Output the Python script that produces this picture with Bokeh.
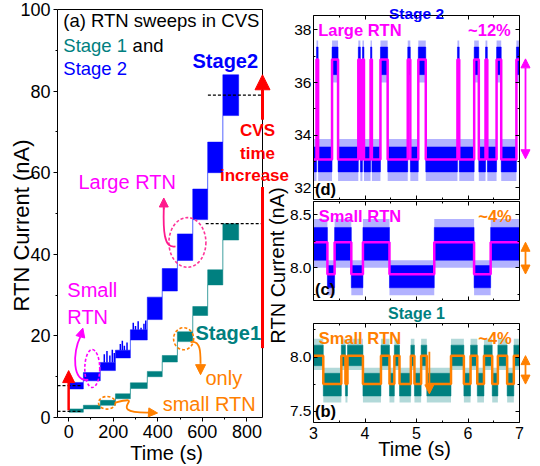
from bokeh.plotting import figure
from bokeh.layouts import row, column
from bokeh.models import (FixedTicker, LinearAxis, Label, Arrow, NormalHead,
                          Range1d, PrintfTickFormatter)
from bokeh.embed import file_html
from bokeh.resources import INLINE

FONT = "Liberation Sans"
BLUE = "#0000FF"
TEAL = "#008080"
MAGENTA = "#FF00FF"
ORANGE = "#FF8000"
RED = "#FF0000"
PINK = "#FF3399"

# ---------------- panel (a): step sweeps ----------------
step_start = [2, 66, 142, 210, 277, 353, 420, 488, 557, 624, 692]
step_end = [66, 142, 210, 277, 353, 420, 488, 557, 624, 692, 763]
stage2_low = [7.0, 9.0, 11.5, 14.6, 19.0, 24.0, 31.0, 38.5, 48.5, 60.0, 74.0]
stage2_high = [8.6, 11.0, 13.5, 16.5, 21.5, 29.5, 36.5, 45.0, 56.0, 67.5, 84.0]
stage1_low = [1.3, 2.1, 3.0, 4.6, 7.1, 10.0, 13.6, 18.6, 25.0, 32.5, 43.5]
stage1_high = [2.1, 3.0, 4.2, 5.8, 8.5, 11.3, 15.2, 21.0, 27.2, 36.2, 47.5]
spike_t = [160, 172, 185, 196, 205, 232, 241, 250, 262, 290, 300, 312, 325, 338, 346]
spike_top = [15.5, 16.3, 15.2, 16.6, 15.8, 18.0, 18.8, 17.6, 18.4, 23.2, 22.4, 23.6, 22.0, 23.0, 23.8]
x_ticks_a = [0, 200, 400, 600, 800]
y_ticks_a = [0, 20, 40, 60, 80, 100]

# ---------------- panel (d): Stage 2 large RTN ----------------
d_rise = [3.058, 3.36, 3.87, 3.95, 4.108, 4.30, 4.83, 5.035, 5.795, 6.12, 6.34, 6.555, 6.94]
d_fall = [3.09, 3.477, 3.91, 3.98, 4.134, 4.44, 4.88, 5.18, 5.83, 6.21, 6.375, 6.645, 7.0]
d_levels = [33.07, 36.88]
d_low_outer, d_low_inner = [32.25, 33.85], [32.6, 33.55]
d_high_outer, d_high_inner = [36.0, 37.6], [36.3, 37.35]

# ---------------- panel (c): Stage 2 small RTN ----------------
c_fall = [3.27, 3.734, 4.475, 6.118]
c_rise = [3.41, 3.96, 5.345, 6.44]
c_levels = [7.937, 8.24]
c_low_outer, c_low_inner = [7.74, 8.07], [7.81, 8.02]
c_high_outer, c_high_inner = [8.0, 8.46], [8.07, 8.38]

# ---------------- panel (b): Stage 1 small RTN ----------------
b_fall = [3.19, 3.62, 3.96, 4.475, 4.67, 4.96, 5.20, 5.92, 6.18, 6.47, 6.76]
b_rise = [3.54, 3.66, 4.31, 4.57, 4.89, 5.09, 5.67, 6.05, 6.31, 6.58, 6.89]
b_levels = [7.75, 8.013]
b_low_outer, b_low_inner = [7.58, 7.9], [7.64, 7.85]
b_high_outer, b_high_inner = [7.88, 8.17], [7.92, 8.11]


def style_axis(ax, labels=True, inside=False, size="18px", standoff=3, ticks=True):
    ax.axis_line_color = "black"
    ax.axis_line_width = 1
    ax.major_tick_line_color = "black" if ticks else None
    ax.minor_tick_line_color = "black" if ticks else None
    if inside:
        ax.major_tick_in, ax.major_tick_out = 4, 0
        ax.minor_tick_in, ax.minor_tick_out = 2, 0
    else:
        ax.major_tick_in, ax.major_tick_out = 0, 4
        ax.minor_tick_in, ax.minor_tick_out = 0, 2
    ax.major_label_text_font = FONT
    ax.major_label_text_color = "black"
    if labels:
        ax.major_label_text_font_size = size
        ax.major_label_standoff = standoff
    else:
        ax.major_label_text_color = None
        ax.major_label_standoff = 0


def lab(fig, text, x, y, color="black", size=18.5, bold=False, align="left",
        baseline="middle", angle=0.0):
    fig.add_layout(Label(x=x, y=y, text=text, text_color=color, text_font=FONT,
                         text_font_size=f"{size}px",
                         text_font_style="bold" if bold else "normal",
                         text_align=align, text_baseline=baseline, angle=angle))


def arrow(fig, x0, y0, x1, y1, color, width=2.0, head=10, both=False, nohead=False):
    end = None if nohead else NormalHead(size=head, fill_color=color, line_color=color)
    start = NormalHead(size=head, fill_color=color, line_color=color) if both else None
    fig.add_layout(Arrow(start=start, end=end, x_start=x0, y_start=y0, x_end=x1, y_end=y1,
                         line_color=color, line_width=width))


# ======================= left figure =======================
# page geometry (px): canvas x 0..289, y 0..464; x=-50 at 57, x=870 at 262; y=100 at 9, y=0 at 417
SXA = 205 / 920.0
SYA = (417 - 9) / 100.0
H = 464


def lx(px):
    return -50 + (px - 57) / SXA


def ly(py):
    return (417 - py) / SYA


p = figure(width=289, height=H, x_range=Range1d(lx(0), lx(289)),
           y_range=Range1d(ly(H), ly(0)),
           output_backend="svg", toolbar_location=None, min_border=0,
           min_border_left=0, min_border_right=0, min_border_top=0, min_border_bottom=0)
p.xgrid.visible = False
p.ygrid.visible = False
p.outline_line_color = None
p.background_fill_color = "white"
p.border_fill_color = "white"
p.xaxis.ticker = FixedTicker(ticks=x_ticks_a, minor_ticks=[100, 300, 500, 700])
p.yaxis.ticker = FixedTicker(ticks=y_ticks_a, minor_ticks=[10, 30, 50, 70, 90])
p.xaxis.fixed_location = 0
p.xaxis.bounds = (-50, 870)
p.yaxis.fixed_location = -50
p.yaxis.bounds = (0, 100)
style_axis(p.xaxis[0])
style_axis(p.yaxis[0])
top_a = LinearAxis(fixed_location=100, bounds=(-50, 870), ticker=FixedTicker(ticks=[]))
right_a = LinearAxis(fixed_location=870, bounds=(0, 100), ticker=FixedTicker(ticks=[]))
style_axis(top_a, labels=False, ticks=False)
style_axis(right_a, labels=False, ticks=False)
p.add_layout(top_a, "above")
p.add_layout(right_a, "right")

# connectors between steps
p.segment(x0=step_end[:-1], y0=stage2_high[:-1], x1=step_end[:-1], y1=stage2_low[1:],
          line_color="#5566ff", line_width=1)
p.segment(x0=step_end[:-1], y0=stage1_high[:-1], x1=step_end[:-1], y1=stage1_low[1:],
          line_color="#40a0a0", line_width=1)
# noisy step blocks
p.quad(left=step_start, right=step_end, bottom=stage2_low, top=stage2_high,
       fill_color=BLUE, line_color=BLUE, line_width=0.5)
p.quad(left=step_start, right=step_end, bottom=stage1_low, top=stage1_high,
       fill_color=TEAL, line_color=TEAL, line_width=0.5)
spike_base = []
for t in spike_t:
    for s0, s1, hi in zip(step_start, step_end, stage2_high):
        if s0 <= t < s1:
            spike_base.append(hi)
p.segment(x0=spike_t, y0=spike_base, x1=spike_t, y1=spike_top, line_color=BLUE, line_width=1.5)

# dashed guide lines
p.segment(x0=[625, 615, -50, -50], y0=[79, 47.5, 7.8, 1.5],
          x1=[870, 870, 62, 62], y1=[79, 47.5, 7.8, 1.5],
          line_color="black", line_dash="3 2", line_width=1.3)

# dashed ellipses
p.ellipse(x=[533], y=[42.9], width=[166], height=[12.2], fill_alpha=0,
          line_color=PINK, line_dash="3 2", line_width=1.6)
p.ellipse(x=[106], y=[12.0], width=[67], height=[9.3], fill_alpha=0,
          line_color=MAGENTA, line_dash="3 2", line_width=1.6)
p.ellipse(x=[172, 516], y=[3.6, 19.3], width=[76, 90], height=[3.1, 5.4], fill_alpha=0,
          line_color=ORANGE, line_dash="3 2", line_width=1.6)

# curved pointer arrows
p.bezier(x0=[479.6], y0=[41.95], x1=[427], y1=[51.5], cx0=[425.6], cy0=[41.3],
         cx1=[424.3], cy1=[46.2], line_color="#FF1A8C", line_width=1.8)
arrow(p, 427, 51.0, 427, 53.8, "#FF1A8C", width=1.8, head=9)
p.bezier(x0=[88.5], y0=[9.27], x1=[52.6], y1=[19.76], cx0=[16.6], cy0=[8.29],
         cx1=[16.6], cy1=[16.1], line_color=MAGENTA, line_width=1.8)
arrow(p, 52.6, 19.76, 63.8, 21.9, MAGENTA, width=1.8, head=9)
p.bezier(x0=[209.9], y0=[3.66], x1=[367], y1=[1.22], cx0=[367], cy0=[5.85],
         cx1=[142.5], cy1=[0.98], line_color=ORANGE, line_width=1.8)
arrow(p, 367, 1.22, 399, 1.1, ORANGE, width=1.8, head=9)
p.bezier(x0=[547], y0=[18.5], x1=[592], y1=[13.2], cx0=[592], cy0=[19.0],
         cx1=[592], cy1=[16.1], line_color=ORANGE, line_width=1.8)
arrow(p, 592, 13.2, 592, 10.5, ORANGE, width=1.8, head=10)

# red CVS arrows
arrow(p, 0, 1.8, 0, 11.5, RED, width=2.5, head=12)
arrow(p, 870, 17, 870, 56.5, RED, width=3, nohead=True)
arrow(p, 870, 73, 870, 84, RED, width=3, head=15)

# texts
lab(p, "(a) RTN sweeps in CVS", -24, ly(20))
lab(p, "Stage 1", -24, ly(45), color=TEAL)
lab(p, "and", 287, ly(45))
lab(p, "Stage 2", -24, ly(68), color=BLUE)
lab(p, "Stage2", 556, ly(60), color=BLUE, size=20, bold=True)
lab(p, "Large RTN", 44, 57.6, color=MAGENTA, size=20)
lab(p, "Small", -6, 31.2, color=MAGENTA, size=20)
lab(p, "RTN", -6, 24.6, color=MAGENTA, size=20)
lab(p, "Stage1", 569, 20.7, color=TEAL, size=20, bold=True)
lab(p, "only", 614, 9.8, color=ORANGE, size=20)
lab(p, "small RTN", 422, 3.2, color=ORANGE, size=20)
lab(p, "CVS", lx(257), ly(130), color=RED, size=17, bold=True, align="center")
lab(p, "time", lx(257), ly(153), color=RED, size=17, bold=True, align="center")
lab(p, "increase", lx(254), ly(175), color=RED, size=17, bold=True, align="center")
# axis titles (left panel and the shared one of the right column)
lab(p, "RTN Current (nA)", lx(21), ly(225), size=22, align="center", angle=1.5708)
lab(p, "Time (s)", lx(166), ly(452), size=20, align="center")
lab(p, "RTN Current (nA)", lx(277), ly(265), size=20, align="center", angle=1.5708)


# ======================= right column =======================
SXR = (519 - 313) / 4.0
RX0, RX1 = 289, 538


def rx(px):
    return 3 + (px - 313) / SXR


def segments(t0, t1, starts, ends, base_high):
    segs, t = [], t0
    for a, b in zip(starts, ends):
        if a > t:
            segs.append((t, a, base_high))
        segs.append((a, min(b, t1), not base_high))
        t = b
    if t < t1:
        segs.append((t, t1, base_high))
    return segs


def rpanel(ymin, ymax, top_px, bot_px, can_top, can_bot, yt, ym, xlabels, fmt=None):
    scale = (bot_px - top_px) / (ymax - ymin)

    def py(px):
        return ymin + (bot_px - px) / scale

    f = figure(width=RX1 - RX0, height=can_bot - can_top, x_range=Range1d(rx(RX0), rx(RX1)),
               y_range=Range1d(py(can_bot), py(can_top)),
               output_backend="svg", toolbar_location=None, min_border=0,
               min_border_left=0, min_border_right=0, min_border_top=0, min_border_bottom=0)
    f.xgrid.visible = False
    f.ygrid.visible = False
    f.outline_line_color = None
    f.border_fill_color = "white"
    xt = FixedTicker(ticks=[3, 4, 5, 6, 7], minor_ticks=[3.5, 4.5, 5.5, 6.5])
    ytk = FixedTicker(ticks=yt, minor_ticks=ym)
    f.xaxis.fixed_location = ymin
    f.yaxis.fixed_location = 3
    f.add_layout(LinearAxis(fixed_location=7), "right")
    f.add_layout(LinearAxis(fixed_location=ymax), "above")
    for ax in f.xaxis:
        ax.ticker = xt
        ax.bounds = (3, 7)
        style_axis(ax, labels=False, inside=True)
    for ax in f.yaxis:
        ax.ticker = ytk
        ax.bounds = (ymin, ymax)
        style_axis(ax, labels=False, inside=True)
    if xlabels:
        style_axis(f.below[0], labels=True, inside=True, size="16px", standoff=4)
    style_axis(f.left[0], labels=True, inside=True, size="15.5px", standoff=2)
    if fmt:
        f.left[0].formatter = PrintfTickFormatter(format=fmt)
    return f, py


def draw_rtn(f, segs, levels, lo_out, lo_in, hi_out, hi_in, noise_color, wave_color):
    lefts = [s[0] for s in segs]
    rights = [s[1] for s in segs]
    f.quad(left=lefts, right=rights,
           bottom=[hi_out[0] if s[2] else lo_out[0] for s in segs],
           top=[hi_out[1] if s[2] else lo_out[1] for s in segs],
           fill_color=noise_color, fill_alpha=0.3, line_color=None)
    f.quad(left=lefts, right=rights,
           bottom=[hi_in[0] if s[2] else lo_in[0] for s in segs],
           top=[hi_in[1] if s[2] else lo_in[1] for s in segs],
           fill_color=noise_color, line_color=noise_color, line_width=0.5)
    xs, ys = [], []
    for a, b, h in segs:
        lv = levels[1] if h else levels[0]
        xs += [a, b]
        ys += [lv, lv]
    f.line(xs, ys, line_color=wave_color, line_width=2.5)


XA = rx(525)  # x of the double arrows right of the panels

d, pyd = rpanel(31.55, 38.55, 15, 199, 0, 200, [32, 34, 36, 38], [33, 35, 37], False)
draw_rtn(d, segments(3, 7, d_rise, d_fall, False), d_levels, d_low_outer, d_low_inner,
         d_high_outer, d_high_inner, BLUE, MAGENTA)
lab(d, "Stage 2", 5.0, pyd(12.5), color=BLUE, size=15.5, bold=True, align="center",
    baseline="alphabetic")
lab(d, "Large RTN", 3.09, pyd(29), color=MAGENTA, size=16.5, bold=True)
lab(d, "~12%", 6.83, pyd(29), color=MAGENTA, size=16.5, bold=True, align="right")
lab(d, "(d)", 3.03, pyd(188), size=16.5, bold=True)
arrow(d, XA, 33.1, XA, 36.9, MAGENTA, width=1.8, head=9, both=True)

c, pyc = rpanel(7.69, 8.625, 201, 300, 200, 302, [8.0, 8.5], [7.75, 8.25], False, fmt="%.1f")
draw_rtn(c, segments(3, 7, c_fall, c_rise, True), c_levels, c_low_outer, c_low_inner,
         c_high_outer, c_high_inner, BLUE, MAGENTA)
lab(c, "Small RTN", 3.1, pyc(215), color=MAGENTA, size=16.5, bold=True)
lab(c, "~4%", 6.85, pyc(215), color=ORANGE, size=16.5, bold=True, align="right")
lab(c, "(c)", 3.03, pyc(288), size=16.5, bold=True)
arrow(c, XA, 7.94, XA, 8.24, ORANGE, width=1.8, head=9, both=True)

b, pyb = rpanel(7.395, 8.31, 323, 422, 302, H, [7.5, 8.0], [7.75, 8.25], True, fmt="%.1f")
draw_rtn(b, segments(3, 7, b_fall, b_rise, True), b_levels, b_low_outer, b_low_inner,
         b_high_outer, b_high_inner, TEAL, ORANGE)
lab(b, "Stage 1", 5.0, pyb(313), color=TEAL, size=16, bold=True, align="center")
lab(b, "Small RTN", 3.1, pyb(337), color=ORANGE, size=16.5, bold=True)
lab(b, "~4%", 6.85, pyb(337), color=ORANGE, size=16.5, bold=True, align="right")
lab(b, "(b)", 3.03, pyb(410), size=16.5, bold=True)
lab(b, "Time (s)", rx(414), pyb(448), size=20, align="center")
arrow(b, 5.25, 8.05, 5.25, 7.66, ORANGE, width=1.8, head=9)
arrow(b, XA, 7.75, XA, 8.013, ORANGE, width=1.8, head=9, both=True)

layout = row(p, column(d, c, b))
open("out.html", "w").write(file_html(layout, INLINE))
